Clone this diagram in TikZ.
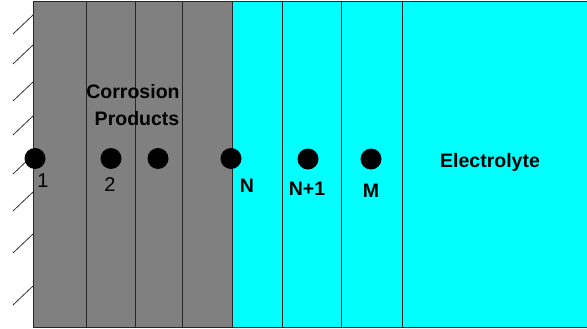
\documentclass[tikz,border=0pt]{standalone}
\usepackage{fontspec}
\setmainfont{Liberation Sans}
\begin{document}
\begin{tikzpicture}[x=1pt,y=-1pt,
  dot/.style={circle,fill=black,inner sep=0pt,minimum size=21pt},
  lbl/.style={font=\fontsize{19.5}{22}\selectfont\bfseries,inner sep=0pt},
  numlbl/.style={font=\fontsize{20}{22}\selectfont,inner sep=0pt},
  layer/.style={line width=1pt,draw=black!85},
  hatch/.style={line width=0.8pt,draw=black!80}]
\useasboundingbox (0,0) rectangle (587,329);
\definecolor{metalgray}{HTML}{808080}
\definecolor{elcyan}{HTML}{00FFFF}
% regions
\fill[metalgray] (33,2) rectangle (232,327);
\fill[elcyan] (232,2) rectangle (590,327);
\draw[layer] (590,2) -- (33,2) -- (33,327) -- (590,327);
\foreach \xx in {86,135,182,232,282,341,402}
  \draw[layer] (\xx,2) -- (\xx,327);
% hatching
\foreach \yy in {15,45,82,116,155,192,234,286}
  \draw[hatch] (33,\yy) -- (13,\yy+19);
% dots
\node[dot] (d1) at (35,158.5) {};
\node[dot] (d2) at (111,158.5) {};
\node[dot] (d3) at (158,158.5) {};
\node[dot] (dN) at (231,158.5) {};
\node[dot] (dN1) at (308,159) {};
\node[dot] (dM) at (371,159) {};
% labels
\node[numlbl] (l1) at (43,181) {1};
\node[numlbl] (l2) at (110,185) {2};
\node[lbl] (lN) at (247,186) {N};
\node[lbl] (lN1) at (307,189) {N+1};
\node[lbl] (lM) at (371,191) {M};
\node[lbl] (el) at (490,162) {Electrolyte};
\node[lbl] (cor) at (133,92) {Corrosion};
\node[lbl] (prod) at (137,119) {Products};
\end{tikzpicture}
\end{document}
